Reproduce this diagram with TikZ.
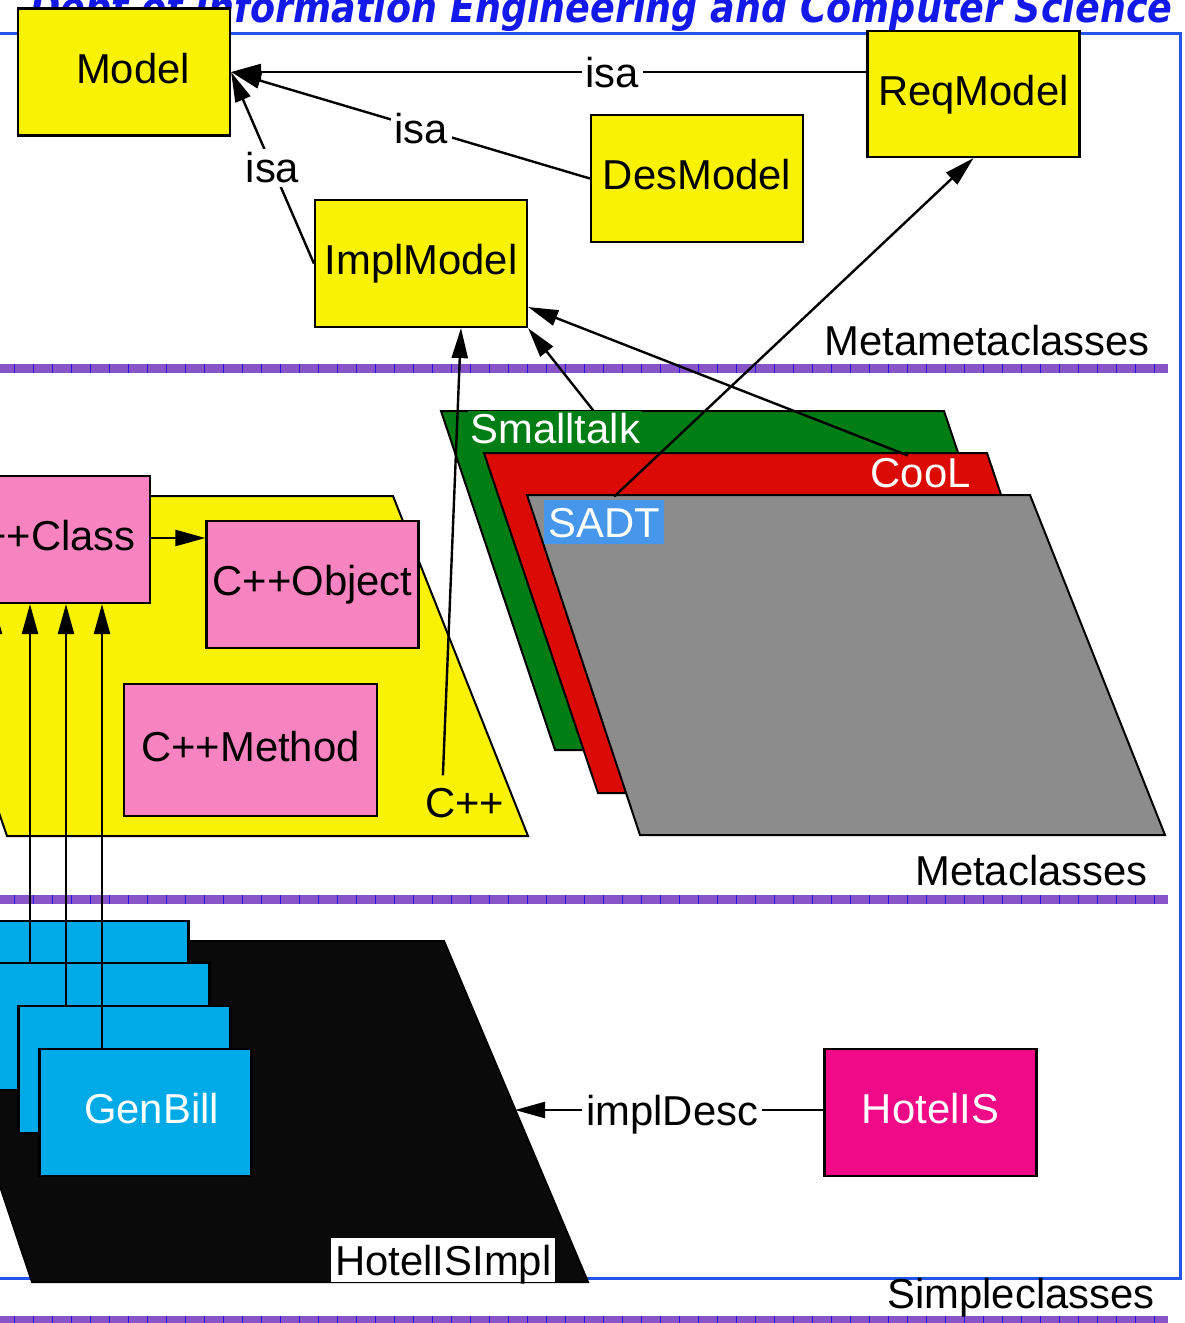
\documentclass[tikz,border=0pt]{standalone}
\usepackage{fontspec}
\setmainfont{Liberation Sans}
\usepackage{graphicx}
\usetikzlibrary{arrows.meta,calc}

\definecolor{hdrblue}{RGB}{20,25,235}
\definecolor{framblue}{RGB}{35,85,235}
\definecolor{boxyellow}{RGB}{249,242,5}
\definecolor{boxpink}{RGB}{247,131,192}
\definecolor{boxcyan}{RGB}{0,170,230}
\definecolor{boxmagenta}{RGB}{240,10,135}
\definecolor{pkggreen}{RGB}{0,125,20}
\definecolor{pkgred}{RGB}{220,10,5}
\definecolor{pkggray}{RGB}{140,140,140}
\definecolor{sadtblue}{RGB}{70,150,235}
\definecolor{pkgblack}{RGB}{10,10,10}
\definecolor{divpurple}{RGB}{135,85,200}
\definecolor{divtick}{RGB}{40,20,230}

\begin{document}
\begin{tikzpicture}[x=0.5pt,y=-0.5pt,
  font=\fontsize{20.9}{25}\selectfont,
  box/.style={draw=black, line width=1.1pt, inner sep=0pt,
    minimum width=106pt, minimum height=63.5pt,
    text height=15pt, text depth=4pt},
  ybox/.style={box, fill=boxyellow},
  pbox/.style={box, fill=boxpink},
  cbox/.style={box, fill=boxcyan, text=white},
  pkg/.style={draw=black, line width=1pt},
  arr/.style={line width=1.2pt, -{Triangle[length=15pt,width=8pt]}},
  isa/.style={fill=white, inner sep=2pt, text height=15pt, text depth=0pt},
  layer/.style={anchor=base east, inner sep=0pt},
  divider/.style={fill=divpurple},
]
\useasboundingbox (0,0) rectangle (1184,1323);

% heading of the slide
\node[anchor=base west, inner sep=0pt, text=hdrblue] (hdr) at (30,22)
  {\resizebox{571pt}{16pt}{\fontspec{DejaVu Sans}\bfseries\itshape Dept of Information Engineering and Computer Science}};

% frame
\draw[framblue, line width=1.5pt] (-10,33) -- (1180,33) -- (1180,1278) -- (-10,1278);

% layer dividers
\foreach \yy in {364,895,1316} {
  \fill[divider] (0,\yy) rectangle (1168,\yy+9);
  \foreach \tx in {14,33,...,1160}
    \draw[divtick, line width=0.5pt] (\tx,\yy) -- (\tx,\yy+9);
}

% layer names
\node[layer] (lmm) at (1150,355) {Metametaclasses};
\node[layer] (lm)  at (1148,885) {Metaclasses};
\node[layer] (ls)  at (1155,1308) {Simpleclasses};

% metametaclasses
\node[ybox] (model) at (124,72) {\hspace*{9pt}Model};
\node[ybox, minimum height=63pt] (req) at (973.5,94) {ReqModel};
\node[ybox] (des) at (697,178.5) {DesModel};
\node[ybox] (impl) at (421,263.5) {ImplModel};

\draw[arr] (req.west |- model.east) -- node[isa, pos=0.4] {isa} (model.east);
\draw[arr] (des.west) -- node[isa, pos=0.47] {isa} (model.east);
\draw[arr] (impl.west) -- node[isa, pos=0.5] {isa} (model.east);

% metaclass packages
\filldraw[pkg, fill=pkggreen] (441,411) -- (944,411) -- (1058,750) -- (555,750) -- cycle;
\node[anchor=base west, fill=pkggreen, text=white, inner sep=1pt] (st) at (468,443) {Smalltalk};
\filldraw[pkg, fill=pkgred] (484,453) -- (987,453) -- (1101,793) -- (598,793) -- cycle;
\node[anchor=base east, fill=pkgred, text=white, inner sep=1pt] (cool) at (973,487) {CooL};
\filldraw[pkg, fill=pkggray] (527,495) -- (1030,495) -- (1165,835) -- (640,835) -- cycle;
\node[anchor=base west, fill=sadtblue, text=white, inner xsep=2pt, inner ysep=3.5pt,
  text height=15pt, text depth=0pt] (sadt) at (544,537) {SADT};

\filldraw[pkg, fill=boxyellow] (-110,496) -- (393,496) -- (528,836) -- (7,836) -- cycle;
\node[anchor=base west, inner sep=0pt] (cpp) at (425,817) {C++};

\node[pbox] (cls) at (44,539.5) {C++Class};
\node[pbox] (obj) at (312.5,584.5) {C++Object};
\node[pbox, minimum width=126.5pt, minimum height=66pt] (meth) at (250.5,750) {C++Method};
\draw[arr] (cls.east |- 0,538) -- (obj.west |- 0,538);

% simpleclasses
\filldraw[pkg, fill=pkgblack] (-82,941) -- (444,941) -- (588,1282) -- (32,1282) -- cycle;
\node[anchor=base west, fill=white, inner xsep=2pt, inner ysep=3.5pt,
  text height=15pt, text depth=0pt] (hsi) at (331,1275) {HotelISImpl};
\coordinate (hsiedge) at (515,1110);

\node[cbox] (gb1) at (82.5,984.5) {};
\node[cbox] (gb2) at (103.5,1026.5) {};
\node[cbox] (gb3) at (124.5,1069.5) {};
\node[cbox] (gb4) at (145.5,1112.5) {\hspace*{6pt}GenBill};

\node[box, fill=boxmagenta, text=white] (his) at (930.5,1112.5) {HotelIS};
\draw[arr] (his.west |- hsiedge) -- node[isa, pos=0.49] {implDesc} (hsiedge);

% instance-of links
\draw[arr] (gb1.north -| -6,0) -- (cls.south -| -6,0);
\draw[arr] (gb2.north -| 30,0) -- (cls.south -| 30,0);
\draw[arr] (gb3.north -| 66,0) -- (cls.south -| 66,0);
\draw[arr] (gb4.north -| 102,0) -- (cls.south -| 102,0);

\draw[arr] ($(cpp.north)+(-22,-12)$) -- ([xshift=20pt]impl.south);
\draw[arr] ($(st.north)+(38,0)$) -- (impl.south east);
\draw[arr] ($(cool.north)+(-13,0)$) -- ([yshift=-21.75pt]impl.east);
\draw[arr] ($(sadt.north)+(10,-3)$) -- (req.south);
\end{tikzpicture}
\end{document}
